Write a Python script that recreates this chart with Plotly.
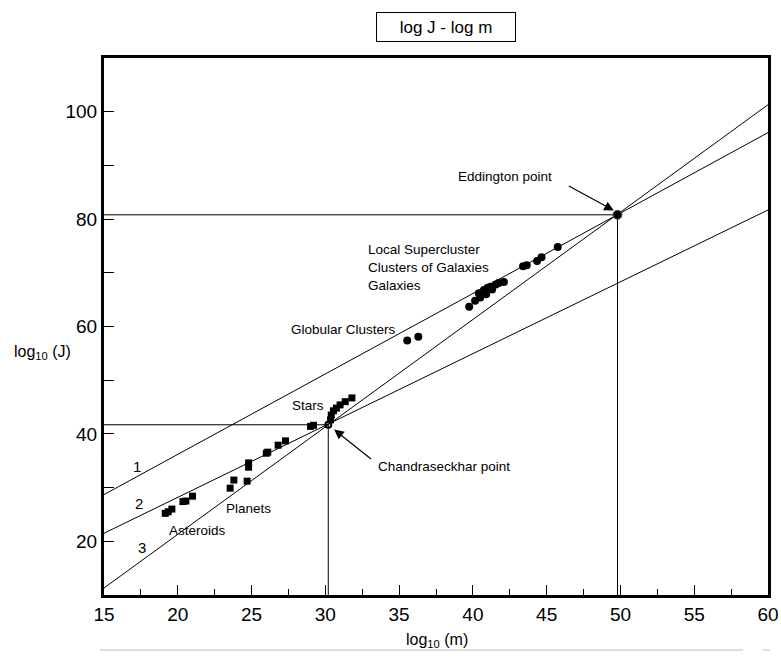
import plotly.graph_objects as go

# ---- data ----
asteroids_m = [19.15, 19.35, 19.6, 20.35, 20.55, 21.0]
asteroids_j = [25.2, 25.5, 26.0, 27.4, 27.5, 28.4]

planets_m = [23.55, 23.8, 24.7, 24.8, 24.8, 26.0, 26.1, 26.8, 27.3, 29.0, 29.2]
planets_j = [29.9, 31.4, 31.2, 33.8, 34.6, 36.4, 36.6, 37.9, 38.7, 41.4, 41.6]

stars_m = [30.35, 30.4, 30.55, 30.75, 31.0, 31.35, 31.8]
stars_j = [42.6, 43.5, 44.3, 44.8, 45.4, 46.0, 46.7]

globular_m = [35.55, 36.3]
globular_j = [57.4, 58.1]

galaxies_m = [39.75, 40.15, 40.5, 40.4, 40.75, 40.9, 41.0, 41.2, 41.3, 41.55,
              41.75, 42.1, 43.4, 43.65, 44.35, 44.65, 45.75]
galaxies_j = [63.7, 64.8, 65.4, 66.2, 66.8, 66.0, 67.2, 67.4, 66.9, 67.8,
              68.1, 68.3, 71.2, 71.4, 72.2, 72.9, 74.8]

chandra_m, chandra_j = 30.2, 41.7
edd_m, edd_j = 49.8, 80.8

line_x = [15, 60]
line1_y = [28.7, 96.1]
line2_y = [21.5, 81.7]
line3_y = [11.3, 101.3]

x_ticks = [15, 20, 25, 30, 35, 40, 45, 50, 55, 60]
y_ticks = [20, 40, 60, 80, 100]

FONT = "Liberation Sans, Arial, sans-serif"
fig = go.Figure()

thin = dict(color="black", width=1)
for ys in (line1_y, line2_y, line3_y):
    fig.add_trace(go.Scatter(x=line_x, y=ys, mode="lines", line=thin,
                             hoverinfo="skip", showlegend=False))

# reference lines to Eddington / Chandrasekhar points
fig.add_trace(go.Scatter(x=[15, edd_m, edd_m], y=[edd_j, edd_j, 10], mode="lines",
                         line=thin, showlegend=False, hoverinfo="skip"))
fig.add_trace(go.Scatter(x=[15, chandra_m, chandra_m], y=[chandra_j, chandra_j, 10],
                         mode="lines", line=thin, showlegend=False, hoverinfo="skip"))

sq = dict(symbol="square", size=7, color="black")
fig.add_trace(go.Scatter(x=asteroids_m, y=asteroids_j, mode="markers", marker=sq, showlegend=False))
fig.add_trace(go.Scatter(x=planets_m, y=planets_j, mode="markers", marker=sq, showlegend=False))
fig.add_trace(go.Scatter(x=stars_m, y=stars_j, mode="markers", marker=sq, showlegend=False))

circ = dict(symbol="circle", size=8, color="black")
fig.add_trace(go.Scatter(x=globular_m, y=globular_j, mode="markers", marker=circ, showlegend=False))
fig.add_trace(go.Scatter(x=galaxies_m, y=galaxies_j, mode="markers", marker=circ, showlegend=False))
fig.add_trace(go.Scatter(x=[edd_m], y=[edd_j], mode="markers",
                         marker=dict(symbol="circle", size=9, color="black",
                                     line=dict(color="#555", width=1)), showlegend=False))
fig.add_trace(go.Scatter(x=[chandra_m], y=[chandra_j], mode="markers",
                         marker=dict(symbol="circle-open", size=6, color="black",
                                     line=dict(width=2)), showlegend=False))

def label(text, x, y, size=13.5, xanchor="left"):
    fig.add_annotation(x=x, y=y, text=text, showarrow=False, xanchor=xanchor,
                       yanchor="middle", font=dict(family=FONT, size=size, color="black"))

label("Eddington point", 38.85, 88.0)
label("Local Supercluster", 32.75, 74.4)
label("Clusters of Galaxies", 32.75, 71.05)
label("Galaxies", 32.75, 67.7)
label("Globular Clusters", 27.55, 59.4)
label("Stars", 27.6, 45.2)
label("Chandraseckhar point", 33.4, 34.0)
label("Planets", 23.15, 26.2)
label("Asteroids", 19.3, 22.1)
label("1", 17.25, 34.0, size=15, xanchor="center")
label("2", 17.4, 27.1, size=15, xanchor="center")
label("3", 17.6, 18.9, size=15, xanchor="center")

# arrows
fig.add_annotation(x=49.55, y=81.6, ax=46.4, ay=86.3, axref="x", ayref="y",
                   text="", showarrow=True, arrowhead=2, arrowsize=1.6,
                   arrowwidth=1.2, arrowcolor="black")
fig.add_annotation(x=30.6, y=40.8, ax=33.2, ay=35.1, axref="x", ayref="y",
                   text="", showarrow=True, arrowhead=2, arrowsize=1.6,
                   arrowwidth=1.2, arrowcolor="black")

# plot area in page pixels: left 104, right 768, top 58, bottom 595
PW, PH = 664, 537

# axis titles (horizontal)
fig.add_annotation(xref="paper", yref="paper", x=(12 - 104) / PW, y=(595 - 353) / PH,
                   xanchor="left", yanchor="middle", showarrow=False,
                   text="log<sub>10</sub> (J)", font=dict(family=FONT, size=16, color="black"))
fig.add_annotation(xref="paper", yref="paper", x=(437 - 104) / PW, y=(595 - 640) / PH,
                   xanchor="center", yanchor="middle", showarrow=False,
                   text="log<sub>10</sub> (m)", font=dict(family=FONT, size=16, color="black"))

# title box
fig.add_annotation(xref="paper", yref="paper", x=(446 - 104) / PW, y=(595 - 27) / PH,
                   xanchor="center", yanchor="middle", showarrow=False,
                   text="log J - log m", width=136, height=26,
                   bordercolor="black", borderwidth=1, borderpad=1,
                   font=dict(family=FONT, size=17, color="black"))

# faint line at bottom
fig.add_shape(type="line", xref="paper", yref="paper",
              x0=(100 - 104) / PW, x1=(743 - 104) / PW,
              y0=(595 - 650) / PH, y1=(595 - 650) / PH,
              line=dict(color="#bbbbbb", width=1))
fig.add_shape(type="line", xref="paper", yref="paper",
              x0=(763 - 104) / PW, x1=(770 - 104) / PW,
              y0=(595 - 650) / PH, y1=(595 - 650) / PH,
              line=dict(color="#bbbbbb", width=1))

fig.update_xaxes(range=[15, 60], tickvals=x_ticks, ticktext=[str(v) for v in x_ticks],
                 ticks="inside", ticklen=10, tickwidth=1, tickcolor="black",
                 minor=dict(dtick=2.5, tick0=15, ticks="inside", ticklen=6, tickcolor="black"),
                 showline=True, linecolor="black", linewidth=3, mirror=True,
                 showgrid=False, zeroline=False, ticklabeloverflow="allow", automargin=False,
                 tickfont=dict(family=FONT, size=19, color="black"))
fig.update_yaxes(range=[10, 110], tickvals=y_ticks, ticktext=[str(v) for v in y_ticks],
                 ticks="inside", ticklen=10, tickwidth=1, tickcolor="black",
                 minor=dict(dtick=10, tick0=10, ticks="inside", ticklen=10, tickcolor="black"),
                 showline=True, linecolor="black", linewidth=3, mirror=True,
                 showgrid=False, zeroline=False, automargin=False,
                 tickfont=dict(family=FONT, size=19, color="black"))

fig.update_layout(width=781, height=658, margin=dict(l=104, r=13, t=58, b=63, autoexpand=False),
                  plot_bgcolor="white", paper_bgcolor="white", showlegend=False)

# remove the browser's default 8px body margin so the figure fills the window exactly
fig.write_html("out.html", config={"displayModeBar": False},
               post_script="document.body.style.margin='0px';document.body.style.overflow='hidden';")
